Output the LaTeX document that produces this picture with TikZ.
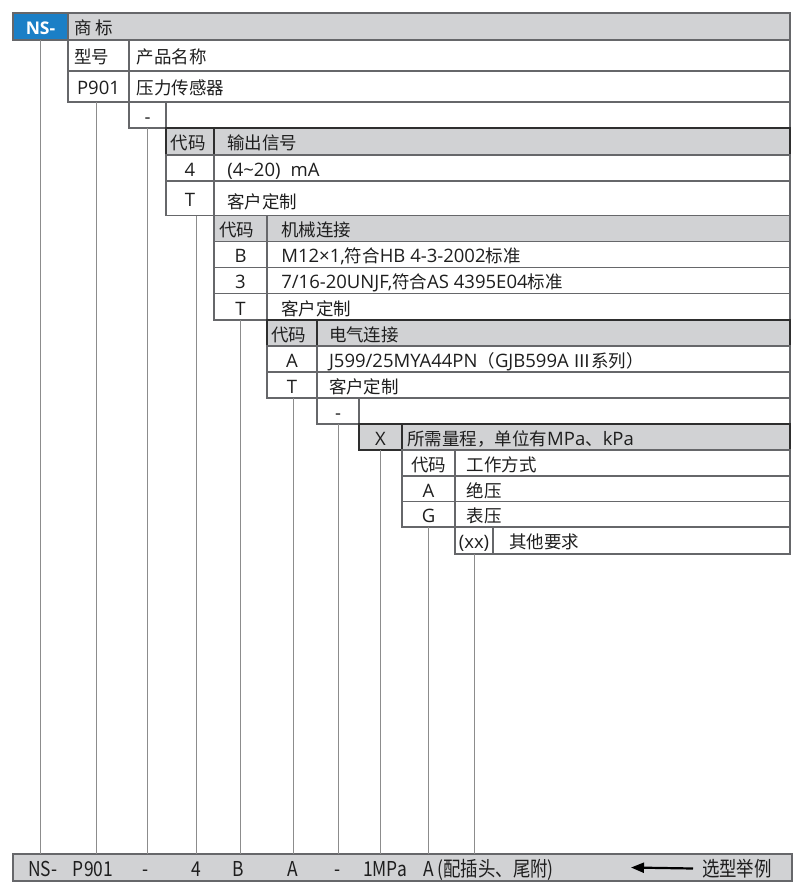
\documentclass[tikz,border=0pt]{standalone}
\usepackage{fontspec}
\setmainfont{Open Sans}
\newfontfamily\cjkf[Scale=0.945]{Noto Sans CJK SC}
\newfontfamily\condf[FakeStretch=0.85]{Noto Sans CJK SC}
\newcommand\zh[1]{{\cjkf #1}}
\usetikzlibrary{arrows.meta,calc}
\definecolor{grayf}{HTML}{D1D2D4}
\definecolor{bluef}{HTML}{1B7FC6}
\definecolor{bordc}{HTML}{66676A}
\definecolor{darkb}{HTML}{2E2E2E}
\definecolor{connc}{HTML}{8C8C8C}
\definecolor{txtc}{HTML}{1E1E1E}
\newcommand\mfs{\fontsize{18.5}{20}\selectfont}
\newcommand\nsfs{\fontsize{17.5}{20}\selectfont\bfseries}
\newcommand\cfs{\condf\fontsize{20.5}{22}\selectfont}
\tikzset{
  cellbox/.style={draw=bordc, line width=1.1pt, inner sep=0pt, outer sep=0pt, anchor=north west},
  hdr/.style={fill=grayf, draw=darkb},
  txt/.style={inner sep=0pt, outer sep=0pt, text=txtc, font=\mfs, text height=16.2pt, text depth=2.3pt, yshift=-1.5pt},
  lt/.style={txt, anchor=west},
  btxt/.style={inner sep=0pt, outer sep=0pt, text=txtc, font=\cfs, text height=17.5pt, text depth=2.5pt, yshift=-1pt},
  conn/.style={draw=connc, line width=0.9pt},
  arr/.style={draw=black, line width=2.2pt, -{Triangle[length=13pt,width=10pt]}},
}
\newcommand\mkcell[6]{%
  \pgfmathsetmacro\cw{#4-#2}\pgfmathsetmacro\ch{#5-#3}%
  \node[cellbox,#6,minimum width=\cw pt,minimum height=\ch pt] (#1) at (#2,#3) {};}
\begin{document}
\begin{tikzpicture}[x=1pt,y=-1pt]
\useasboundingbox (0,0) rectangle (804,891);
\fill[white] (0,0) rectangle (804,891);
% ---- cells
\mkcell{ns}{13}{13}{68}{40}{fill=bluef}
\mkcell{sb}{68}{13}{790}{40}{fill=grayf}
\mkcell{xh}{68}{40}{129}{71}{}
\mkcell{cpmc}{129}{40}{790}{71}{}
\mkcell{pno}{68}{71}{129}{102}{}
\mkcell{pname}{129}{71}{790}{102}{}
\mkcell{da}{129}{102}{166}{128}{}
\mkcell{dar}{166}{102}{790}{128}{}
\mkcell{ha}{166}{128}{214}{155}{hdr}
\mkcell{hb}{214}{128}{790}{155}{hdr}
\mkcell{fa}{166}{155}{214}{181}{}
\mkcell{fb}{214}{155}{790}{181}{}
\mkcell{ta}{166}{181}{214}{215.5}{}
\mkcell{tb}{214}{181}{790}{215.5}{}
\mkcell{hc}{214}{215.5}{267}{241.5}{fill=grayf}
\mkcell{hd}{267}{215.5}{790}{241.5}{fill=grayf}
\mkcell{ba}{214}{241.5}{267}{267.5}{}
\mkcell{bb}{267}{241.5}{790}{267.5}{}
\mkcell{tha}{214}{267.5}{267}{293.5}{}
\mkcell{thb}{267}{267.5}{790}{293.5}{}
\mkcell{tca}{214}{293.5}{267}{320}{}
\mkcell{tcb}{267}{293.5}{790}{320}{}
\mkcell{he}{267}{320}{317}{346}{hdr}
\mkcell{hf}{317}{320}{790}{346}{hdr}
\mkcell{aa}{267}{346}{317}{372}{}
\mkcell{ab}{317}{346}{790}{372}{}
\mkcell{tda}{267}{372}{317}{398}{}
\mkcell{tdb}{317}{372}{790}{398}{}
\mkcell{db}{317}{398}{359}{424}{}
\mkcell{dbr}{359}{398}{790}{424}{}
\mkcell{xa}{359}{424}{402}{450}{hdr}
\mkcell{xb}{402}{424}{790}{450}{hdr}
\mkcell{hg}{402}{450}{455}{476}{}
\mkcell{hh}{455}{450}{790}{476}{}
\mkcell{ga}{402}{476}{455}{501.5}{}
\mkcell{gb}{455}{476}{790}{501.5}{}
\mkcell{gga}{402}{501.5}{455}{527}{}
\mkcell{ggb}{455}{501.5}{790}{527}{}
\mkcell{qa}{455}{527}{493}{554}{}
\mkcell{qb}{493}{527}{790}{554}{}
\mkcell{bar}{13}{854}{792}{881}{fill=grayf}
% ---- cell texts
\node[txt,text=white,font=\nsfs] (x-ns) at (ns.center) {NS-};
\node[lt,xshift=6pt] (x-sb) at (sb.west) {\zh{商 标}};
\node[lt,xshift=6pt] (x-xh) at (xh.west) {\zh{型号}};
\node[lt,xshift=7.7pt] (x-cpmc) at (cpmc.west) {\zh{产品名称}};
\node[txt] (x-pno) at (pno.center) {P901};
\node[lt,xshift=7.7pt] (x-pname) at (pname.west) {\zh{压力传感器}};
\node[txt] (x-da) at (da.center) {-};
\node[lt,xshift=4.7pt] (x-ha) at (ha.west) {\zh{代码}};
\node[lt,xshift=13.3pt] (x-hb) at (hb.west) {\zh{输出信号}};
\node[txt] (x-fa) at (fa.center) {4};
\node[lt,xshift=13.3pt] (x-fb) at (fb.west) {(4\textasciitilde 20)\hspace{10pt}mA};
\node[txt] (x-ta) at (ta.center) {T};
\node[lt,xshift=13.3pt,yshift=-2pt] (x-tb) at (tb.west) {\zh{客户定制}};
\node[lt,xshift=5.3pt] (x-hc) at (hc.west) {\zh{代码}};
\node[lt,xshift=14.3pt] (x-hd) at (hd.west) {\zh{机械连接}};
\node[txt] (x-ba) at (ba.center) {B};
\node[lt,xshift=14.3pt] (x-bb) at (bb.west) {M12×1,\zh{符合}HB 4-3-2002\zh{标准}};
\node[txt] (x-tha) at (tha.center) {3};
\node[lt,xshift=14.3pt] (x-thb) at (thb.west) {7/16-20UNJF,\zh{符合}AS 4395E04\zh{标准}};
\node[txt] (x-tca) at (tca.center) {T};
\node[lt,xshift=14.3pt] (x-tcb) at (tcb.west) {\zh{客户定制}};
\node[lt,xshift=4pt] (x-he) at (he.west) {\zh{代码}};
\node[lt,xshift=12pt] (x-hf) at (hf.west) {\zh{电气连接}};
\node[txt] (x-aa) at (aa.center) {A};
\node[lt,xshift=12pt] (x-ab) at (ab.west) {J599/25MYA44PN\zh{（}GJB599A \zh{Ⅲ系列}\zh{）}};
\node[txt] (x-tda) at (tda.center) {T};
\node[lt,xshift=12pt] (x-tdb) at (tdb.west) {\zh{客户定制}};
\node[txt] (x-db) at (db.center) {-};
\node[txt] (x-xa) at (xa.center) {X};
\node[lt,xshift=5.3pt] (x-xb) at (xb.west) {\zh{所需量程，单位有}MPa\zh{、}kPa};
\node[txt] (x-hg) at (hg.center) {\zh{代码}};
\node[lt,xshift=11.7pt] (x-hh) at (hh.west) {\zh{工作方式}};
\node[txt] (x-ga) at (ga.center) {A};
\node[lt,xshift=11.7pt] (x-gb) at (gb.west) {\zh{绝压}};
\node[txt] (x-gga) at (gga.center) {G};
\node[lt,xshift=11.7pt] (x-ggb) at (ggb.west) {\zh{表压}};
\node[txt] (x-qa) at (qa.center) {(xx)};
\node[lt,xshift=16.3pt] (x-qb) at (qb.west) {\zh{其他要求}};
% ---- connectors
\coordinate (c1) at (ns.south);
\coordinate (c2) at ([xshift=-1.8pt]pno.south);
\coordinate (c3) at (da.south);
\coordinate (c4) at ([xshift=6pt]ta.south);
\coordinate (c5) at (tca.south);
\coordinate (c6) at ([xshift=1pt]tda.south);
\coordinate (c7) at (db.south);
\coordinate (c8) at (xa.south);
\coordinate (c9) at (gga.south);
\coordinate (c10) at (qa.south);
\foreach \c in {c1,c2,c3,c4,c5,c6,c7,c8,c9,c10}
  \draw[conn] (\c) -- (\c |- bar.north);
% ---- example row
\node[btxt] (b1) at (43,867.5) {NS-};
\node[btxt] (b2) at (93,867.5) {P901};
\node[btxt] (b3) at (146,867.5) {-};
\node[btxt] (b4) at (196,867.5) {4};
\node[btxt] (b5) at (238,867.5) {B};
\node[btxt] (b6) at (293,867.5) {A};
\node[btxt] (b7) at (338,867.5) {-};
\node[btxt] (b8) at (385,867.5) {1MPa};
\node[btxt,anchor=west] (b9) at (423,867.5) {A (配插头、尾附)};
\node[btxt,anchor=west] (lab) at (702,867.5) {选型举例};
\coordinate (atip) at (631,867.5);
\draw[arr] ([xshift=-9pt]lab.west) -- (atip);
\end{tikzpicture}
\end{document}
